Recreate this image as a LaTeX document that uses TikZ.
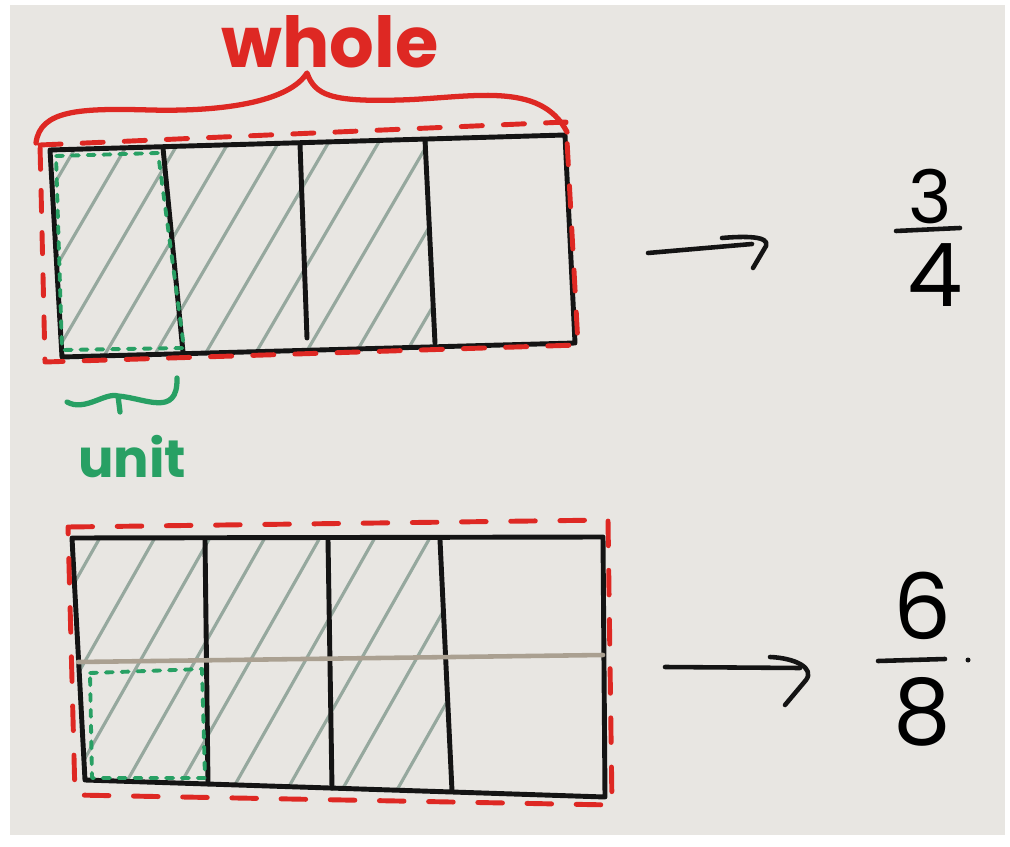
\documentclass[tikz,border=0pt]{standalone}
\usepackage{fontspec}
\setmainfont{Poppins}
\begin{document}
\begin{tikzpicture}[x=0.02cm,y=-0.02cm,line cap=round,line join=round,
  box/.style={draw=inkblack,line width=2.8pt},
  divider/.style={draw=inkblack,line width=2.8pt},
  hatch/.style={draw=hatchgray,line width=1.8pt},
  redout/.style={draw=markred,line width=2.8pt,dash pattern=on 12pt off 12pt},
  unitbox/.style={draw=markgreen,line width=2.2pt,dash pattern=on 4pt off 5pt},
  arrowline/.style={draw=inkblack,line width=2.6pt},
  label/.style={inner sep=0pt}]
\definecolor{inkblack}{RGB}{20,20,20}
\definecolor{hatchgray}{RGB}{150,168,158}
\definecolor{markred}{RGB}{222,40,35}
\definecolor{markgreen}{RGB}{40,160,100}
\definecolor{board}{RGB}{232,230,226}
\definecolor{midline}{RGB}{170,160,145}
% background
\useasboundingbox (0,0) rectangle (1010,847);
\fill[white] (0,0) rectangle (1010,847);
\fill[board] (10,5) rectangle (1005,835);

% ---------- top bar ----------
\coordinate (tTL) at (50,150); \coordinate (tTR) at (565,135);
\coordinate (tBR) at (575,343); \coordinate (tBL) at (62,357);
\begin{scope}
  \clip (tTL) -- (428,140) -- (436,344) -- (tBL) -- cycle;
  \foreach \x in {-60,-10,...,560}
    \draw[hatch] (\x,380) -- ++(140,-240);
\end{scope}
\draw[box] (tTL) -- (tTR) -- (tBR) -- (tBL) -- cycle;
\draw[divider] (163,148) -- (183,352);
\draw[divider] (300,144) -- (307,338);
\draw[divider] (425,140) -- (435,343);
\draw[unitbox] (56,156) -- (158,153) -- (184,348) -- (62,350) -- cycle;
\draw[redout] (40,145) -- (566,122) -- (578,345) -- (45,362) -- cycle;

% whole brace
\coordinate (wL) at (36,143); \coordinate (wC) at (307,73); \coordinate (wR) at (567,132);
\draw[markred,line width=3pt] (wL) .. controls (40,110) and (80,108) .. (150,110)
   .. controls (230,112) and (290,100) .. (wC)
   .. controls (315,95) and (330,102) .. (400,100)
   .. controls (470,98) and (540,80) .. (wR);
\node[label,text=markred,font=\fontsize{40}{40}\selectfont\bfseries] (whole) at (330,42) {whole};

% unit brace
\draw[markgreen,line width=3pt] (67,402) .. controls (85,412) and (105,392) .. (118,396)
   -- (120,412) (118,396) .. controls (145,398) and (178,418) .. (177,378);
\node[label,text=markgreen,font=\fontsize{30}{30}\selectfont\bfseries] (unit) at (132,457) {unit};

% arrow 1 and 3/4
\coordinate (a1s) at (648,253); \coordinate (a1e) at (752,244);
\draw[arrowline] (a1s) -- (a1e);
\draw[arrowline] (722,238) .. controls (745,236) and (770,236) .. (766,246) -- (753,268);
\node[label,font=\fontsize{42}{42}\selectfont] (n3) at (930,196) {3};
\draw[arrowline] (896,231) -- (960,228);
\node[label,font=\fontsize{50}{50}\selectfont] (d4) at (935,275) {4};

% ---------- bottom bar ----------
\coordinate (bTL) at (72,538); \coordinate (bTR) at (603,537);
\coordinate (bBR) at (605,797); \coordinate (bBL) at (85,780);
\begin{scope}
  \clip (bTL) -- (440,540) -- (452,790) -- (bBL) -- cycle;
  \foreach \x in {-60,-5,...,560}
    \draw[hatch] (\x,820) -- ++(170,-300);
\end{scope}
\draw[box] (bTL) -- (bTR) -- (bBR) -- (bBL) -- cycle;
\draw[divider] (205,540) -- (208,784);
\draw[divider] (328,540) -- (332,788);
\draw[divider] (440,540) -- (452,791);
\draw[midline,line width=2.6pt] (78,662) -- (603,655);
\draw[unitbox] (90,673) -- (202,669) -- (205,778) -- (92,778) -- cycle;
\draw[redout,dash pattern=on 14pt off 14pt] (68,527) -- (608,520) -- (612,805) -- (75,795) -- cycle;

% arrow 2 and 6/8
\coordinate (a2s) at (665,667); \coordinate (a2e) at (800,668);
\draw[arrowline] (a2s) -- (a2e);
\draw[arrowline] (770,657) .. controls (795,658) and (815,668) .. (806,680) -- (785,705);
\node[label,font=\fontsize{52}{52}\selectfont] (n6) at (922,606) {6};
\draw[arrowline] (878,661) -- (945,659);
\fill[inkblack] (968,660) circle (2.5);
\node[label,font=\fontsize{52}{52}\selectfont] (d8) at (922,712) {8};
\end{tikzpicture}
\end{document}
